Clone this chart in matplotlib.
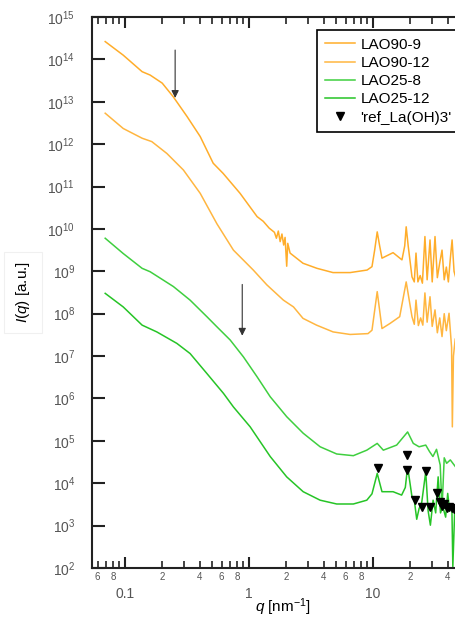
"""SAXS/WAXS curves of LAO samples with La(OH)3 reference peaks."""
import numpy as np
import matplotlib
matplotlib.use("Agg")
import matplotlib.pyplot as plt
from matplotlib.ticker import LogLocator, FuncFormatter, NullLocator, LogFormatterSciNotation

plt.rcParams["font.family"] = ["Liberation Sans", "DejaVu Sans"]
plt.rcParams["mathtext.fontset"] = "custom"
plt.rcParams["mathtext.rm"] = "Liberation Sans"
plt.rcParams["mathtext.it"] = "Liberation Sans:italic"

# values: q in nm^-1, intensity as log10(I)
q_90_9 = [0.069, 0.0964, 0.137, 0.159, 0.199, 0.244, 0.316, 0.403, 0.513, 0.617, 0.845,
          1.16, 1.30, 1.45, 1.60, 1.66, 1.72, 1.78, 1.84, 1.90, 1.95, 2.01, 2.05, 2.14,
          2.72, 3.53, 4.75, 6.53, 8.95, 9.8, 10.3, 10.8, 11.3, 11.8, 14.5, 17.1, 18.0,
          18.5, 19.2, 20.6, 21.5, 22.2, 23.0, 24.0, 25.0, 26.2, 27.3, 28.8, 30.0, 31.6,
          33.0, 34.5, 36.0, 37.5, 39.0, 40.5, 42.0, 43.4, 45.0, 47.0]
logi_90_9 = [14.42, 14.10, 13.71, 13.63, 13.44, 13.12, 12.65, 12.18, 11.55, 11.31, 10.84,
             10.29, 10.18, 10.02, 9.92, 9.78, 9.95, 9.70, 9.88, 9.62, 9.80, 9.12, 9.66, 9.43,
             9.19, 9.07, 8.97, 8.97, 9.03, 9.11, 9.50, 9.93, 9.60, 9.31, 9.44, 9.27, 9.60,
             10.05, 9.60, 8.87, 8.75, 9.43, 8.75, 8.90, 8.72, 9.82, 8.80, 9.74, 8.75, 9.82,
             8.85, 9.20, 9.50, 8.80, 9.10, 8.75, 9.30, 9.74, 9.00, 8.80]

q_90_12 = [0.069, 0.0964, 0.137, 0.164, 0.217, 0.295, 0.403, 0.55, 0.747, 1.08, 1.39,
           1.89, 2.28, 2.72, 3.50, 4.76, 6.53, 9.1, 9.8, 10.8, 11.8, 13.7, 16.4, 18.5,
           20.6, 21.5, 22.2, 23.2, 24.2, 25.2, 26.2, 27.3, 28.8, 30.0, 31.6, 33.0, 34.5,
           36.0, 37.5, 39.0, 41.0, 43.0, 43.6, 44.5, 46.0]
logi_90_12 = [12.73, 12.37, 12.14, 12.06, 11.78, 11.39, 10.84, 10.12, 9.50, 9.03, 8.68,
              8.32, 8.16, 7.89, 7.73, 7.57, 7.51, 7.53, 7.61, 8.52, 7.65, 7.77, 7.93, 8.75,
              7.93, 7.75, 8.32, 7.72, 7.90, 7.73, 8.49, 7.80, 8.40, 7.70, 8.09, 7.55, 7.90,
              7.46, 8.00, 7.60, 8.01, 7.20, 5.33, 7.00, 7.40]

q_25_8 = [0.069, 0.0964, 0.137, 0.159, 0.245, 0.334, 0.456, 0.55, 0.703, 0.90, 1.16,
          1.48, 2.01, 2.73, 3.74, 5.09, 6.93, 8.9, 10.8, 12.1, 15.5, 19.0, 21.1, 23.5,
          26.6, 28.5, 30.4, 32.5, 34.8, 36.0, 37.5, 39.2, 42.0, 45.9]
logi_25_8 = [9.78, 9.42, 9.07, 8.99, 8.64, 8.32, 7.93, 7.69, 7.38, 6.98, 6.51,
             6.04, 5.57, 5.18, 4.86, 4.69, 4.65, 4.78, 4.94, 4.78, 4.90, 5.21, 4.94, 4.86,
             4.90, 4.75, 4.63, 4.80, 4.43, 3.40, 4.60, 4.47, 4.55, 4.40]

q_25_12 = [0.069, 0.0964, 0.137, 0.18, 0.261, 0.334, 0.456, 0.621, 0.747, 1.02, 1.48,
           2.01, 2.73, 3.74, 5.09, 6.93, 8.9, 9.8, 10.8, 11.8, 14.5, 17.0, 18.2, 19.0,
           20.6, 21.5, 22.5, 23.5, 24.7, 26.6, 27.8, 29.0, 30.5, 32.0, 33.5, 35.0, 36.5,
           38.5, 40.0, 41.5, 43.2, 44.0, 45.5]
logi_25_12 = [8.48, 8.16, 7.73, 7.57, 7.30, 7.06, 6.59, 6.12, 5.80, 5.33, 4.63,
              4.15, 3.80, 3.60, 3.51, 3.51, 3.60, 3.75, 4.23, 3.80, 3.80, 3.72, 3.90, 4.39,
              3.68, 3.60, 3.15, 3.40, 3.55, 4.27, 3.35, 3.01, 3.60, 3.30, 4.15, 3.30, 3.45,
              3.20, 3.76, 3.35, 3.50, 2.03, 3.30]

q_ref = [11.0, 18.7, 18.7, 26.7, 21.8, 24.7, 28.8, 32.7, 34.5, 35.8, 37.5, 39.3, 41.0, 43.2, 45.0]
logi_ref = [4.35, 4.66, 4.31, 4.29, 3.60, 3.44, 3.44, 3.78, 3.55, 3.47, 3.50, 3.42, 3.45, 3.42, 3.40]

# arrows marking the features (q, log10 of top, log10 of tip)
arrows = [(0.253, 14.22, 13.09), (0.88, 8.69, 7.48)]

orange = "#ffad2a"
orange2 = "#ffb640"
green = "#3fcf3f"
green2 = "#26c426"
grey = "#555555"

fig = plt.figure(figsize=(4.55, 6.18), dpi=100)
# the plot runs past the right edge of the picture, as in the original
ax = fig.add_axes([92 / 455, 50 / 618, 375.7 / 455, 551 / 618])

ax.plot(q_90_9, 10 ** np.array(logi_90_9), color=orange, lw=1.1, label="LAO90-9")
ax.plot(q_90_12, 10 ** np.array(logi_90_12), color=orange2, lw=1.1, label="LAO90-12")
ax.plot(q_25_8, 10 ** np.array(logi_25_8), color=green, lw=1.1, label="LAO25-8")
ax.plot(q_25_12, 10 ** np.array(logi_25_12), color=green2, lw=1.1, label="LAO25-12")
ax.plot(q_ref, 10 ** np.array(logi_ref), ls="none", marker="v", color="black",
        ms=6, label="'ref_La(OH)3'", zorder=5)

for q, top, tip in arrows:
    ax.annotate("", xy=(q, 10 ** tip), xytext=(q, 10 ** top),
                arrowprops=dict(arrowstyle="-|>", color="#333333", lw=0.8,
                                mutation_scale=11, shrinkA=0, shrinkB=0))

ax.set_xscale("log")
ax.set_yscale("log")
ax.set_xlim(0.054, 58)
ax.set_ylim(1e2, 1e15)

ax.xaxis.set_major_locator(LogLocator(base=10, numticks=20))
ax.xaxis.set_minor_locator(LogLocator(base=10, subs=range(2, 10), numticks=20))
ax.xaxis.set_major_formatter(FuncFormatter(lambda v, p: f"{v:g}"))


def minor_label(v, pos):
    m = int(round(v / 10 ** np.floor(np.log10(v) + 1e-9)))
    return str(m) if m in (2, 4, 6, 8) else ""


ax.xaxis.set_minor_formatter(FuncFormatter(minor_label))
ax.yaxis.set_major_locator(LogLocator(base=10, numticks=20))
ax.yaxis.set_minor_locator(NullLocator())
ax.yaxis.set_major_formatter(LogFormatterSciNotation())

for s in ax.spines.values():
    s.set_linewidth(1.5)
    s.set_color("#222222")
ax.tick_params(which="both", direction="in", top=True, right=True, colors="#222222",
               labelcolor=grey)
ax.tick_params(axis="x", which="major", length=8, width=1.5, pad=14, labelsize=10)
ax.tick_params(axis="x", which="minor", length=5, width=1.2, pad=3, labelsize=7)
ax.tick_params(axis="y", which="major", length=9, width=1.5, pad=12, labelsize=10)

ax.set_xlabel(r"$q$ [nm$^{-1}$]", fontsize=11)
ax.xaxis.set_label_coords(0.508, -0.052)
ax.set_ylabel(r"$I$($q$) [a.u.]", fontsize=11,
              bbox=dict(facecolor="white", edgecolor="#f0f0f0", lw=0.8, pad=7))
ax.yaxis.set_label_coords(-0.16, 0.5)

leg = ax.legend(loc="upper left", bbox_to_anchor=(317 / 455, 1 - 30 / 618),
                bbox_transform=fig.transFigure, fontsize=11, frameon=True,
                fancybox=False, framealpha=1, edgecolor="black", borderaxespad=0,
                borderpad=0.5, handlelength=2.0, handletextpad=0.35, labelspacing=0.28,
                numpoints=1)
leg.get_frame().set_linewidth(1.2)

fig.savefig("out.png", dpi=100)
